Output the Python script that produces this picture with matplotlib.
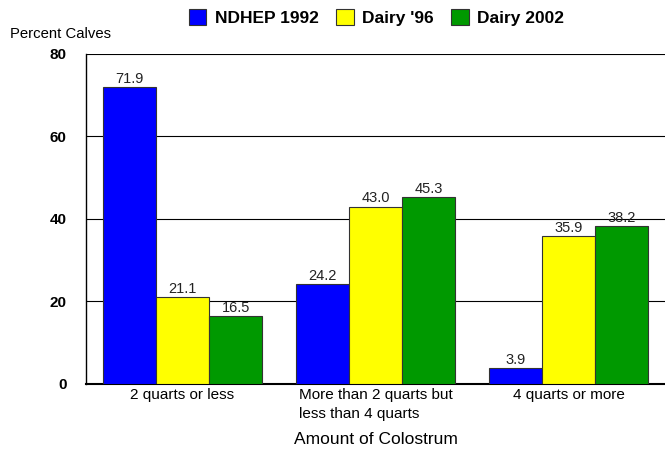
import matplotlib.pyplot as plt
import numpy as np

plt.rcParams['font.family'] = ['Liberation Sans', 'DejaVu Sans']

categories = ["2 quarts or less", "More than 2 quarts but\nless than 4 quarts", "4 quarts or more"]
series_names = ["NDHEP 1992", "Dairy '96", "Dairy 2002"]
ndhep_1992 = [71.9, 24.2, 3.9]
dairy_96 = [21.1, 43.0, 35.9]
dairy_2002 = [16.5, 45.3, 38.2]
colors = ["#0000ff", "#ffff00", "#009900"]

fig = plt.figure(figsize=(6.65, 4.51), dpi=100)
ax = fig.add_axes([0.1293, 0.1486, 0.8707, 0.7317])

x = np.arange(len(categories))
w = 0.275
handles = []
for i, (vals, name, c) in enumerate(zip([ndhep_1992, dairy_96, dairy_2002], series_names, colors)):
    bars = ax.bar(x + (i - 1) * w, vals, width=w, color=c, edgecolor="#333333",
                  linewidth=0.8, label=name, zorder=3)
    ax.bar_label(bars, labels=[f"{v:.1f}" for v in vals], padding=1, fontsize=10.5, color="#222222")
    handles.append(bars)

ax.set_xlim(-0.5, 2.5)
ax.set_ylim(0, 80)
ax.set_yticks([0, 20, 40, 60, 80])
ax.set_yticklabels(["0", "20", "40", "60", "80"], fontsize=11, fontweight="bold")
ax.yaxis.grid(True, color="black", linewidth=0.8, zorder=0)
ax.set_axisbelow(True)
ax.tick_params(axis="y", length=0, pad=14)
ax.tick_params(axis="x", length=0, pad=3)
ax.set_xticks(x)
ax.set_xticklabels(categories, fontsize=11, linespacing=1.45)
for lbl in ax.get_xticklabels():
    lbl.set_multialignment("left")
ax.spines["top"].set_visible(False)
ax.spines["right"].set_visible(False)
ax.spines["left"].set_linewidth(1.0)
ax.spines["bottom"].set_linewidth(1.5)

ax.set_xlabel("Amount of Colostrum", fontsize=12.5, labelpad=8)
fig.text(0.015, 0.925, "Percent Calves", fontsize=10.7, va="center")

fig.legend(handles=handles, loc="center", bbox_to_anchor=(0.5664, 0.961), ncol=3, frameon=False,
           prop={"weight": "bold", "size": 12.5}, handlelength=1.0, handleheight=1.0,
           handletextpad=0.5, columnspacing=1.0, borderpad=0)

fig.savefig("out.png", dpi=100)
